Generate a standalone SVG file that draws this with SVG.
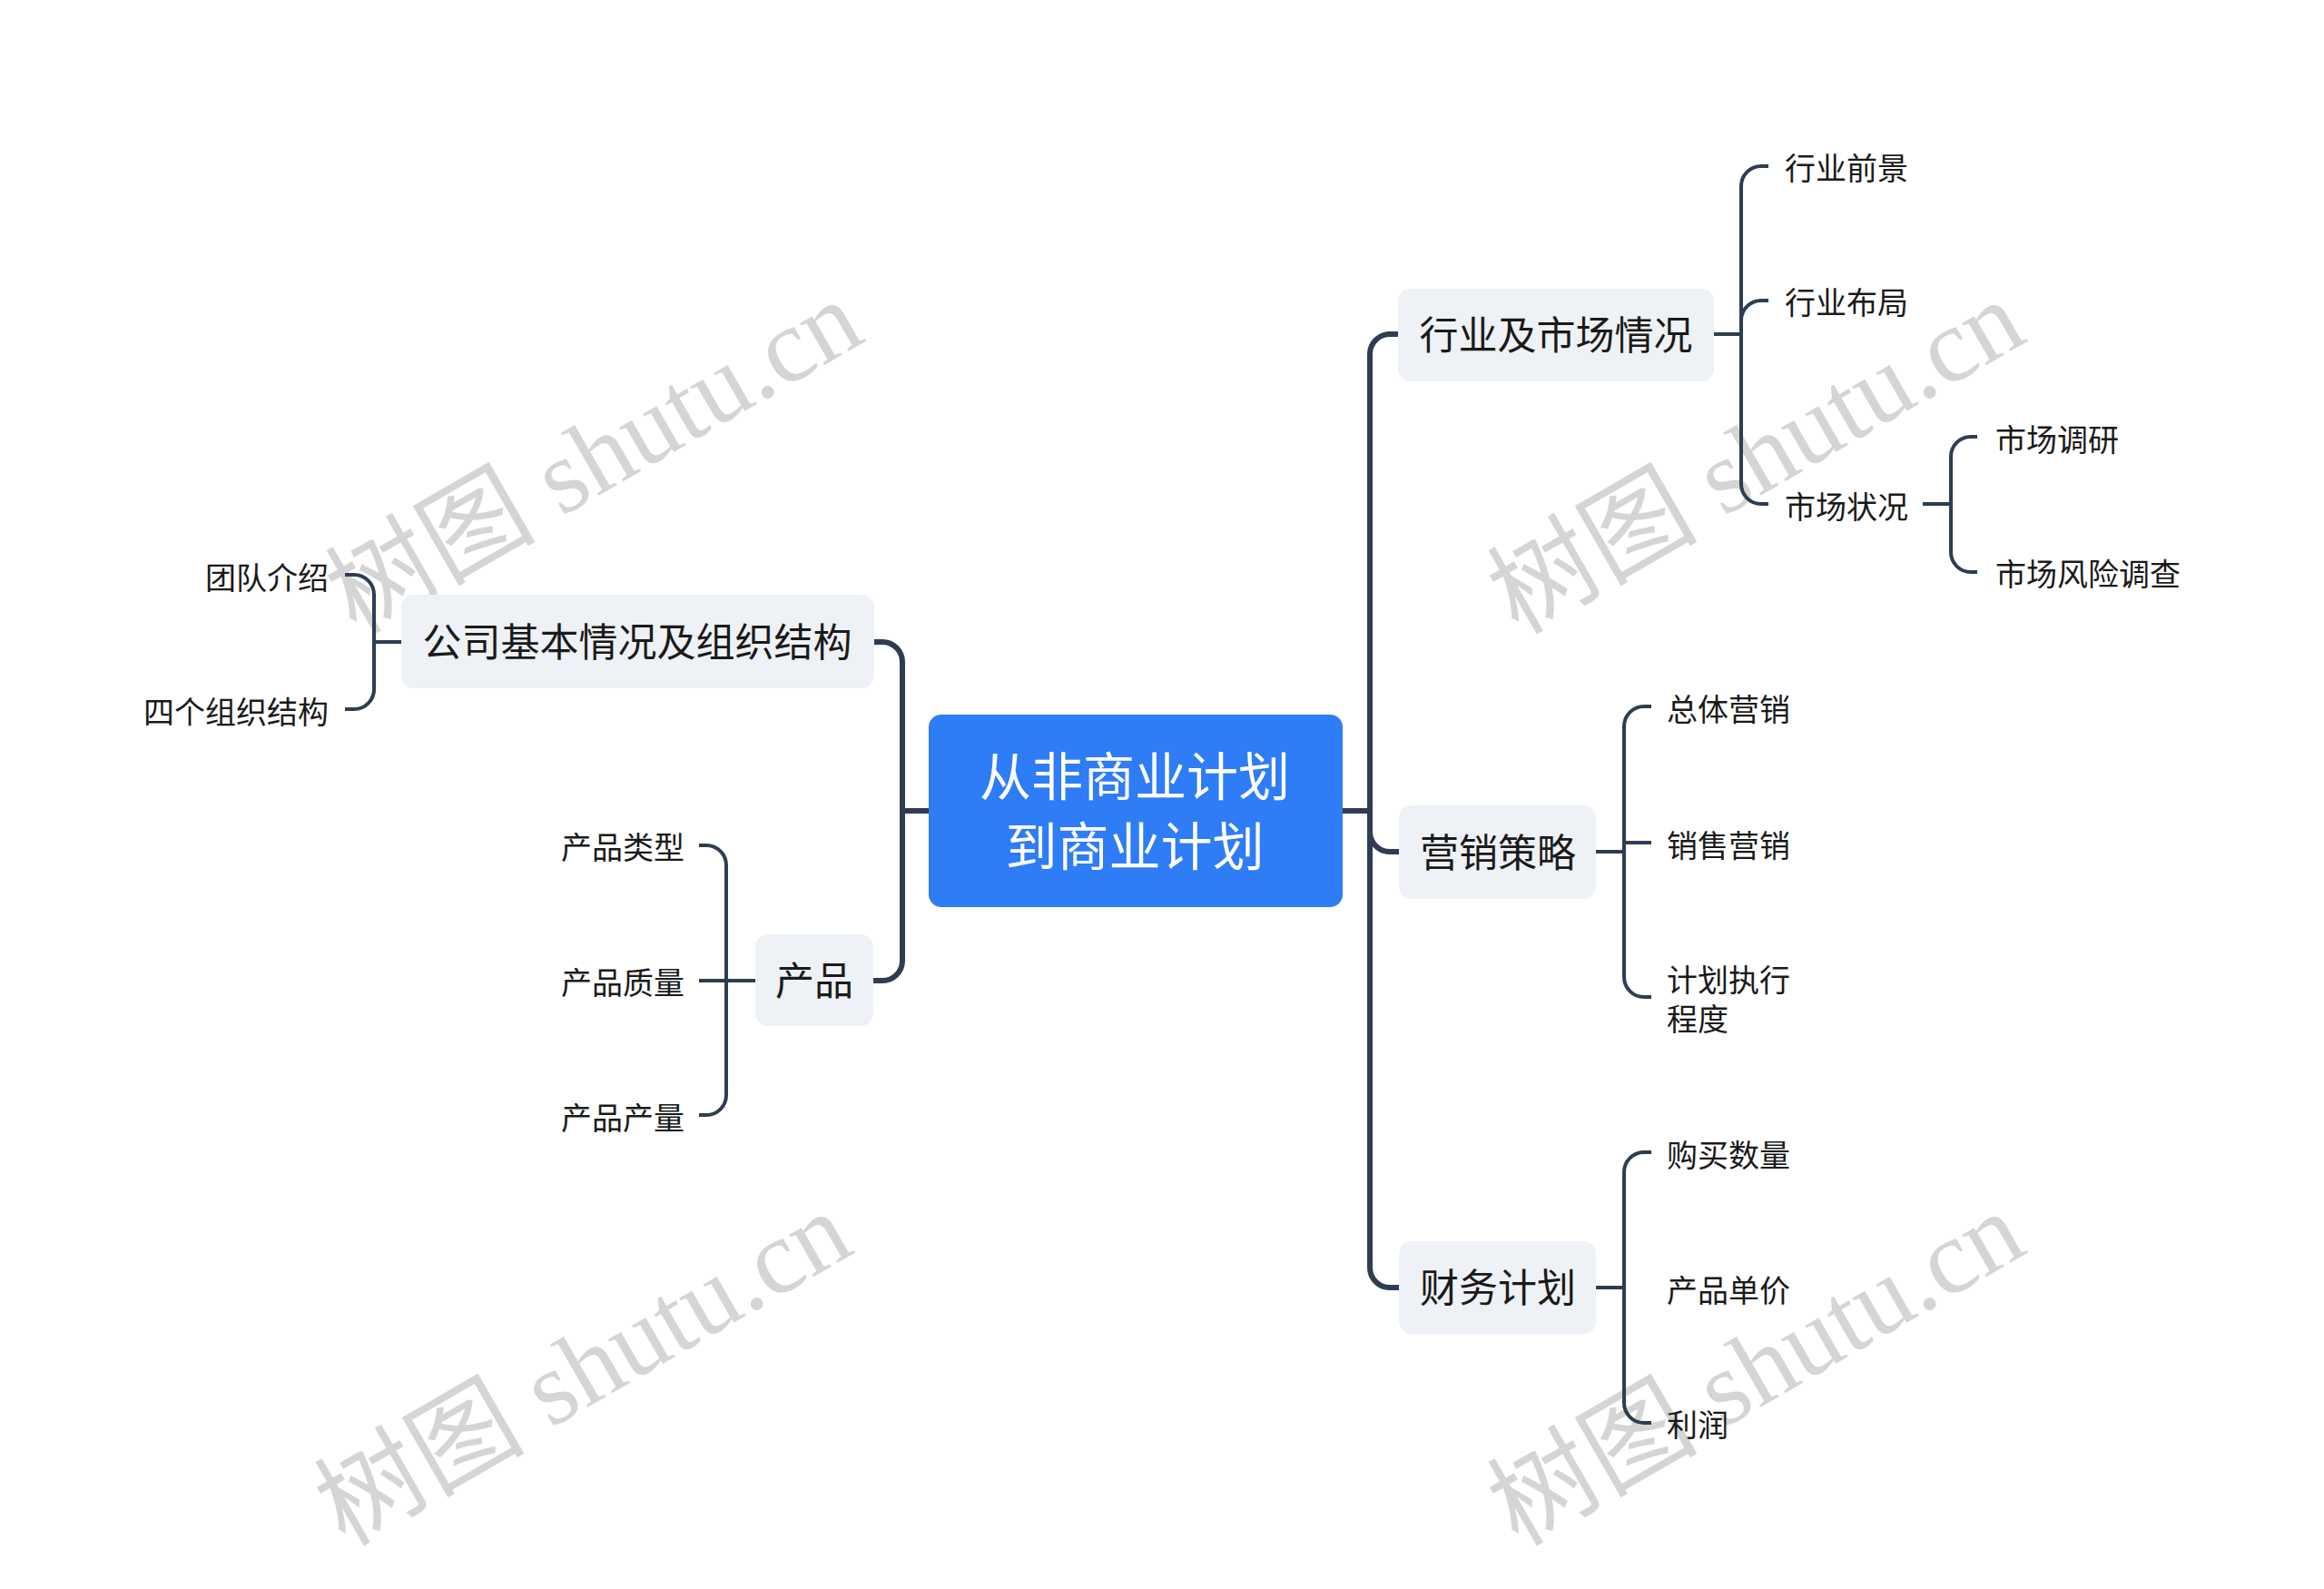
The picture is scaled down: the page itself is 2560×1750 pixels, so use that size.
<svg xmlns="http://www.w3.org/2000/svg" width="2560" height="1750" viewBox="0 0 2560 1750">
<style>
.wm{font-family:"Liberation Serif","Noto Sans CJK SC",serif;font-size:116px;fill:#d5d5d5}
.main{fill:#eef1f5}
.t{font-family:"Noto Sans CJK SC","Noto Sans",sans-serif;fill:#1a1a1a}
.t43{font-size:43px;text-anchor:middle}
.t34{font-size:34px}
.end{text-anchor:end}
.c6{fill:none;stroke:#2e3d51;stroke-width:6}
.c4{fill:none;stroke:#2e3d51;stroke-width:4}
</style>
<rect width="2560" height="1750" fill="#ffffff"/>
<g id="watermarks">
<text class="wm" transform="translate(392,700) rotate(-30)">树图 shutu.cn</text>
<text class="wm" transform="translate(1672,700) rotate(-30)">树图 shutu.cn</text>
<text class="wm" transform="translate(380,1704) rotate(-30)">树图 shutu.cn</text>
<text class="wm" transform="translate(1672,1704) rotate(-30)">树图 shutu.cn</text>
</g>
<g id="connectors">
<path class="c6" d="M1023,893 H994"/>
<path class="c6" d="M994,893 V729 A22,22 0 0 0 972,707 H963"/>
<path class="c6" d="M994,893 V1058 A22,22 0 0 1 972,1080 H962"/>
<path class="c6" d="M1479,893 H1509"/>
<path class="c6" d="M1509,893 V390 A22,22 0 0 1 1531,368 H1541"/>
<path class="c6" d="M1509,893 V916 A22,22 0 0 0 1531,938 H1541"/>
<path class="c6" d="M1509,893 V1396 A22,22 0 0 0 1531,1418 H1541"/>
<path class="c4" d="M442,707 H412"/>
<path class="c4" d="M380,633 H390 A22,22 0 0 1 412,655 V759 A22,22 0 0 1 390,781 H380"/>
<path class="c4" d="M832,1080 H770"/>
<path class="c4" d="M770,931 H778 A22,22 0 0 1 800,953 V1206 A22,22 0 0 1 778,1228 H770"/>
<path class="c4" d="M1888,368 H1918"/>
<path class="c4" d="M1948,183 H1940 A22,22 0 0 0 1918,205 V533 A22,22 0 0 0 1940,555 H1948"/>
<path class="c4" d="M1918,353 A22,22 0 0 1 1940,331 H1948"/>
<path class="c4" d="M2118,555 H2149"/>
<path class="c4" d="M2178,481 H2171 A22,22 0 0 0 2149,503 V608 A22,22 0 0 0 2171,630 H2178"/>
<path class="c4" d="M1758,938 H1789"/>
<path class="c4" d="M1819,778 H1811 A22,22 0 0 0 1789,800 V1076 A22,22 0 0 0 1811,1098 H1819"/>
<path class="c4" d="M1789,928 H1819"/>
<path class="c4" d="M1758,1418 H1789"/>
<path class="c4" d="M1819,1269 H1811 A22,22 0 0 0 1789,1291 V1545 A22,22 0 0 0 1811,1567 H1819"/>
</g>
<g id="root">
<rect x="1023" y="787" width="456" height="212" rx="14" fill="#2e7cf6"/>
<text class="t" font-size="57" text-anchor="middle" style="fill:#ffffff" x="1250" y="876">从非商业计划</text>
<text class="t" font-size="57" text-anchor="middle" style="fill:#ffffff" x="1250" y="953">到商业计划</text>
</g>
<g id="node-gongsi">
<rect class="main" x="442" y="655" width="521" height="103" rx="14"/>
<text class="t t43" x="702" y="723">公司基本情况及组织结构</text>
</g>
<g id="node-tuandui"><text class="t t34 end" x="362" y="649">团队介绍</text></g>
<g id="node-sige"><text class="t t34 end" x="362" y="797">四个组织结构</text></g>
<g id="node-chanpin">
<rect class="main" x="832" y="1029" width="130" height="101" rx="14"/>
<text class="t t43" x="897" y="1096">产品</text>
</g>
<g id="node-leixing"><text class="t t34 end" x="754" y="946">产品类型</text></g>
<g id="node-zhiliang"><text class="t t34 end" x="754" y="1095">产品质量</text></g>
<g id="node-chanliang"><text class="t t34 end" x="754" y="1244">产品产量</text></g>
<g id="node-hangye">
<rect class="main" x="1540" y="318" width="348" height="102" rx="14"/>
<text class="t t43" x="1714" y="385">行业及市场情况</text>
</g>
<g id="node-qianjing"><text class="t t34" x="1966" y="198">行业前景</text></g>
<g id="node-buju"><text class="t t34" x="1966" y="346">行业布局</text></g>
<g id="node-zhuangkuang"><text class="t t34" x="1966" y="571">市场状况</text></g>
<g id="node-diaoyan"><text class="t t34" x="2198" y="497">市场调研</text></g>
<g id="node-fengxian"><text class="t t34" x="2198" y="645">市场风险调查</text></g>
<g id="node-yingxiao">
<rect class="main" x="1541" y="887" width="217" height="103" rx="14"/>
<text class="t t43" x="1650" y="955">营销策略</text>
</g>
<g id="node-zongti"><text class="t t34" x="1836" y="794">总体营销</text></g>
<g id="node-xiaoshou"><text class="t t34" x="1836" y="944">销售营销</text></g>
<g id="node-jihua"><text class="t t34" x="1836" y="1092">计划执行</text><text class="t t34" x="1836" y="1135">程度</text></g>
<g id="node-caiwu">
<rect class="main" x="1541" y="1367" width="217" height="102" rx="14"/>
<text class="t t43" x="1650" y="1434">财务计划</text>
</g>
<g id="node-goumai"><text class="t t34" x="1836" y="1285">购买数量</text></g>
<g id="node-danjia"><text class="t t34" x="1836" y="1434">产品单价</text></g>
<g id="node-lirun"><text class="t t34" x="1836" y="1582">利润</text></g>
</svg>
